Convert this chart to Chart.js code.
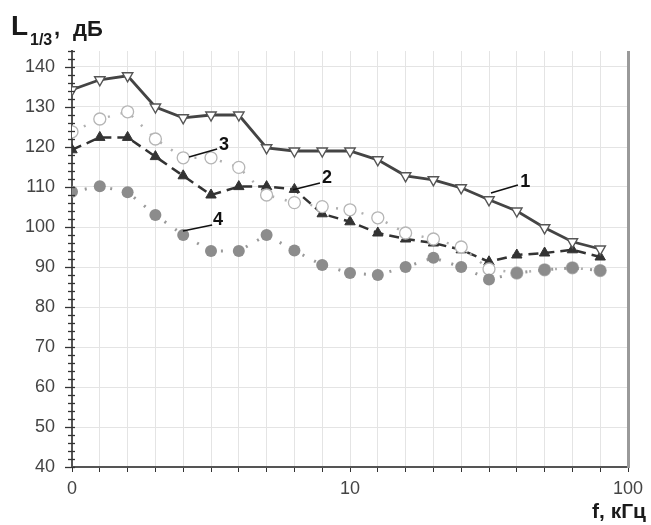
<!DOCTYPE html>
<html>
<head>
<meta charset="utf-8">
<script src="https://cdn.jsdelivr.net/npm/chart.js@4"></script>
<style>
  body { margin: 0; background: #fff; }
</style>
</head>
<body>
<canvas id="chart" width="651" height="525"></canvas>
<script>
// band index along the x axis (1/3 octave bands)
const bands = [0, 1, 2, 3, 4, 5, 6, 7, 8, 9, 10, 11, 12, 13, 14, 15, 16, 17, 18, 19];
const xTickLabels = { 0: '0', 10: '10', 20: '100' };

// levels, dB
const series1 = [134.3, 136.8, 137.8, 130, 127.3, 128, 128, 119.8, 119, 119, 119, 116.8, 112.8, 111.8, 109.8, 106.8, 104, 99.8, 96.3, 94.5];
const series2 = [119.3, 122.4, 122.4, 117.6, 112.8, 108, 110.1, 110.1, 109.4, 103.3, 101.3, 98.5, 97, 96, 94.3, 91.3, 93, 93.5, 94.3, 92.5];
const series3 = [123.8, 127, 128.8, 122, 117.3, 117.3, 114.9, 108, 106.1, 105.1, 104.3, 102.3, 98.5, 97, 95, 89.5, 88.5, 89.3, 89.8, 89.1];
const series4 = [108.8, 110.2, 108.7, 103, 98, 94, 94, 98, 94.1, 90.5, 88.5, 88, 90, 92.3, 90, 86.9, 88.5, 89.3, 89.8, 89.1];

// curve numbers with leader lines: label pos, line start, line end (data coords)
const curveLabels = [
    { text: '1', at: [16.3, 111.3], from: [15.07, 108.5], to: [16.04, 110.5] },
    { text: '2', at: [9.17, 112.3], from: [7.95, 109.3], to: [8.92, 111] },
    { text: '3', at: [5.47, 120.5], from: [4.21, 117.5], to: [5.22, 119.5] },
    { text: '4', at: [5.25, 101.8], from: [3.99, 99], to: [5.04, 100.5] }
];

const toPoints = arr => arr.map((v, i) => ({ x: bands[i], y: v }));
const FONT = "'Liberation Sans', Arial, sans-serif";

const extras = {
    id: 'extras',
    afterDraw(chart) {
        const { ctx, chartArea, scales } = chart;
        const x = scales.x, y = scales.y;
        ctx.save();

        // right frame line
        ctx.strokeStyle = '#9a9a9a';
        ctx.lineWidth = 3;
        ctx.beginPath();
        ctx.moveTo(chartArea.right + 0.5, chartArea.top);
        ctx.lineTo(chartArea.right + 0.5, chartArea.bottom + 1);
        ctx.stroke();

        // y ticks: major every 10, minor every 2
        ctx.strokeStyle = '#333';
        ctx.lineWidth = 1.3;
        for (let v = 40; v <= 144; v += 2) {
            const py = Math.round(y.getPixelForValue(v)) + 0.5;
            ctx.beginPath();
            if (v % 10 === 0) {
                ctx.moveTo(chartArea.left - 7, py);
                ctx.lineTo(chartArea.left + 3, py);
            } else {
                ctx.moveTo(chartArea.left - 4, py);
                ctx.lineTo(chartArea.left + 3, py);
            }
            ctx.stroke();
        }

        // curve numbers
        ctx.fillStyle = '#111';
        ctx.strokeStyle = '#111';
        ctx.lineWidth = 1.5;
        ctx.font = 'bold 18px ' + FONT;
        ctx.textAlign = 'center';
        ctx.textBaseline = 'middle';
        curveLabels.forEach(l => {
            ctx.beginPath();
            ctx.moveTo(x.getPixelForValue(l.from[0]), y.getPixelForValue(l.from[1]));
            ctx.lineTo(x.getPixelForValue(l.to[0]), y.getPixelForValue(l.to[1]));
            ctx.stroke();
            ctx.fillText(l.text, x.getPixelForValue(l.at[0]), y.getPixelForValue(l.at[1]));
        });

        // axis titles
        ctx.fillStyle = '#1a1a1a';
        ctx.textAlign = 'left';
        ctx.textBaseline = 'alphabetic';
        ctx.font = 'bold 28px ' + FONT;
        ctx.fillText('L', 11, 35);
        ctx.font = 'bold 16px ' + FONT;
        ctx.fillText('1/3', 30, 45);
        ctx.font = 'bold 22px ' + FONT;
        ctx.fillText(',', 54, 35);
        ctx.font = 'bold 22px ' + FONT;
        ctx.fillText('дБ', 73, 36);

        ctx.font = 'bold 21px ' + FONT;
        ctx.textAlign = 'right';
        ctx.fillText('f, кГц', 646, 518);

        ctx.restore();
    }
};

new Chart(document.getElementById('chart'), {
    type: 'line',
    data: {
        datasets: [
            {
                label: '1',
                data: toPoints(series1),
                borderColor: '#444',
                borderWidth: 2.8,
                pointStyle: 'triangle',
                pointRotation: 180,
                pointRadius: 6,
                pointBorderWidth: 1.4,
                pointBorderColor: '#555',
                pointBackgroundColor: '#fff',
                order: 0
            },
            {
                label: '4',
                data: toPoints(series4),
                borderColor: '#9a9a9a',
                borderWidth: 3,
                borderDash: [2, 11],
                pointStyle: 'circle',
                pointRadius: 6,
                pointBorderWidth: 0,
                pointBackgroundColor: '#8c8c8c',
                order: 1
            },
            {
                label: '3',
                data: toPoints(series3),
                borderColor: '#b0b0b0',
                borderWidth: 2.5,
                borderDash: [2, 11],
                pointStyle: 'circle',
                pointRadius: 6,
                pointBorderWidth: 1.3,
                pointBorderColor: '#b5b5b5',
                pointBackgroundColor: '#fff',
                order: 2
            },
            {
                label: '2',
                data: toPoints(series2),
                borderColor: '#333',
                borderWidth: 2.5,
                borderDash: [10, 6],
                pointStyle: 'triangle',
                pointRadius: 6,
                pointBorderWidth: 1,
                pointBorderColor: '#333',
                pointBackgroundColor: '#333',
                order: 3
            }
        ]
    },
    options: {
        responsive: false,
        animation: false,
        layout: { padding: { top: 51, right: 23, left: 0, bottom: 0 } },
        plugins: {
            legend: { display: false },
            tooltip: { enabled: false }
        },
        scales: {
            x: {
                type: 'linear',
                min: 0,
                max: 20,
                afterFit: s => { s.height = 58; },
                afterBuildTicks: s => {
                    s.ticks = [];
                    for (let i = 0; i <= 20; i++) s.ticks.push({ value: i });
                },
                ticks: {
                    autoSkip: false,
                    maxRotation: 0,
                    padding: 6,
                    color: '#444',
                    font: { family: FONT, size: 18 },
                    callback: v => xTickLabels[v] !== undefined ? xTickLabels[v] : ''
                },
                grid: {
                    color: '#e4e4e4',
                    lineWidth: 1,
                    tickColor: '#333',
                    tickLength: 5
                },
                border: { color: '#555', width: 2 }
            },
            y: {
                min: 40,
                max: 144,
                afterFit: s => { s.width = 72; },
                afterBuildTicks: s => {
                    s.ticks = [];
                    for (let v = 40; v <= 144; v += 2) s.ticks.push({ value: v });
                },
                ticks: {
                    autoSkip: false,
                    padding: 17,
                    color: '#444',
                    font: { family: FONT, size: 18 },
                    callback: v => v % 10 === 0 ? String(v) : ''
                },
                grid: {
                    drawTicks: false,
                    color: c => (c.tick && c.tick.value % 10 === 0) ? '#e4e4e4' : 'rgba(0,0,0,0)',
                    lineWidth: 1
                },
                border: { color: '#555', width: 2 }
            }
        }
    },
    plugins: [extras]
});
</script>
</body>
</html>
